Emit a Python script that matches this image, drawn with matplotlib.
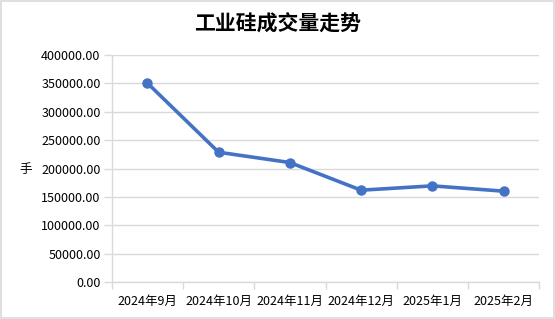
import matplotlib.pyplot as plt
from matplotlib.patches import Rectangle
from matplotlib.ticker import FuncFormatter, MultipleLocator, FixedLocator

plt.rcParams['font.family'] = ['Noto Sans CJK SC', 'DejaVu Sans']

months = ['2024年9月', '2024年10月', '2024年11月', '2024年12月', '2025年1月', '2025年2月']
volume = [350200, 228600, 210500, 161900, 169500, 160200]

fig = plt.figure(figsize=(5.55, 3.19), dpi=100)
ax = fig.add_axes([0.2013, 0.115, 0.7704, 0.7135])

x = range(len(months))
ax.plot(x, volume, color='#4472C4', linewidth=2.6, marker='o', markersize=6.5,
        solid_capstyle='round', zorder=3)

grid_c = '#d9d9d9'
ax.set_xlim(-0.5, len(months) - 0.5)
ax.set_ylim(0, 400000)
ax.yaxis.set_major_locator(MultipleLocator(50000))
ax.yaxis.set_major_formatter(FuncFormatter(lambda v, p: f'{v:.2f}'))
ax.grid(axis='y', color=grid_c, linewidth=1)
ax.set_axisbelow(True)

ax.set_xticks(list(x))
ax.set_xticklabels(months)
ax.xaxis.set_minor_locator(FixedLocator([i - 0.5 for i in range(len(months) + 1)]))
ax.tick_params(axis='x', which='major', length=0, pad=9, labelsize=9, colors='black')
ax.tick_params(axis='x', which='minor', length=5, color=grid_c, width=1)
ax.tick_params(axis='y', length=6, color=grid_c, width=1, labelsize=9, pad=2)

for side in ['top', 'right']:
    ax.spines[side].set_visible(False)
for side in ['left', 'bottom']:
    ax.spines[side].set_color(grid_c)
    ax.spines[side].set_linewidth(1)

fig.text(0.047, 0.47, '手', fontsize=9, ha='center', va='center')
fig.text(0.5, 0.925, '工业硅成交量走势', fontsize=15, fontweight='bold',
         ha='center', va='center')

fig.patches.append(Rectangle((0.002, 0.003), 0.996, 0.994, transform=fig.transFigure,
                             fill=False, edgecolor=grid_c, linewidth=1.2))

fig.savefig('out.png', dpi=100)
